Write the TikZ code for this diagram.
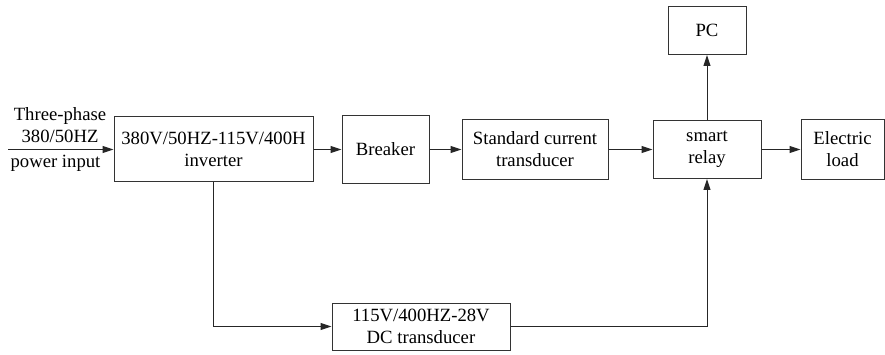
\documentclass[tikz,border=0pt]{standalone}
\usepackage{fontspec}
\setmainfont{Liberation Serif}
\usetikzlibrary{arrows.meta,positioning}
\tikzset{
  blk/.style={draw=black!80, line width=1pt, inner sep=2pt, align=center, font=\fontsize{18.7}{22}\selectfont},
  arr/.style={-{Triangle[length=11pt,width=7pt]}, line width=1pt, black!85},
  lbl/.style={inner sep=0pt, align=center, font=\fontsize{18.7}{22}\selectfont},
}
\begin{document}
\begin{tikzpicture}[x=1pt,y=-1pt]
  \useasboundingbox (0,0) rectangle (885,355);
  \node[blk, minimum width=199pt, minimum height=65pt] (inv) at (213.5,149.5) {380V/50HZ-115V/400H\\inverter};
  \node[blk, minimum width=87pt, minimum height=68pt, right=28pt of inv] (brk) {Breaker};
  \node[blk, minimum width=146pt, minimum height=60pt, right=32pt of brk] (sct) {Standard current\\transducer};
  \node[blk, minimum width=108pt, minimum height=58pt, right=44pt of sct] (relay) {smart\\relay};
  \node[blk, minimum width=83pt, minimum height=60pt, right=39pt of relay] (load) {Electric\\load};
  \node[blk, minimum width=78pt, minimum height=48pt, above=65pt of relay] (pc) {PC};
  \node[blk, minimum width=178pt, minimum height=47pt] (dc) at (421,326.5) {115V/400HZ-28V\\DC transducer};
  % supply side
  \coordinate (src) at (8,149.5);
  \node[lbl] (inup) at (60,125.5) {Three-phase\\380/50HZ};
  \node[lbl] (indn) at (55.5,163) {power input};
  \draw[arr] (src) -- (inv);
  \draw[arr] (inv) -- (brk); \draw[arr] (brk) -- (sct); \draw[arr] (sct) -- (relay);
  \draw[arr] (relay) -- (load); \draw[arr] (relay) -- (pc);
  \draw[arr] (inv.south) |- (dc.west);
  \draw[arr] (dc.east) -| (relay.south);
\end{tikzpicture}
\end{document}
